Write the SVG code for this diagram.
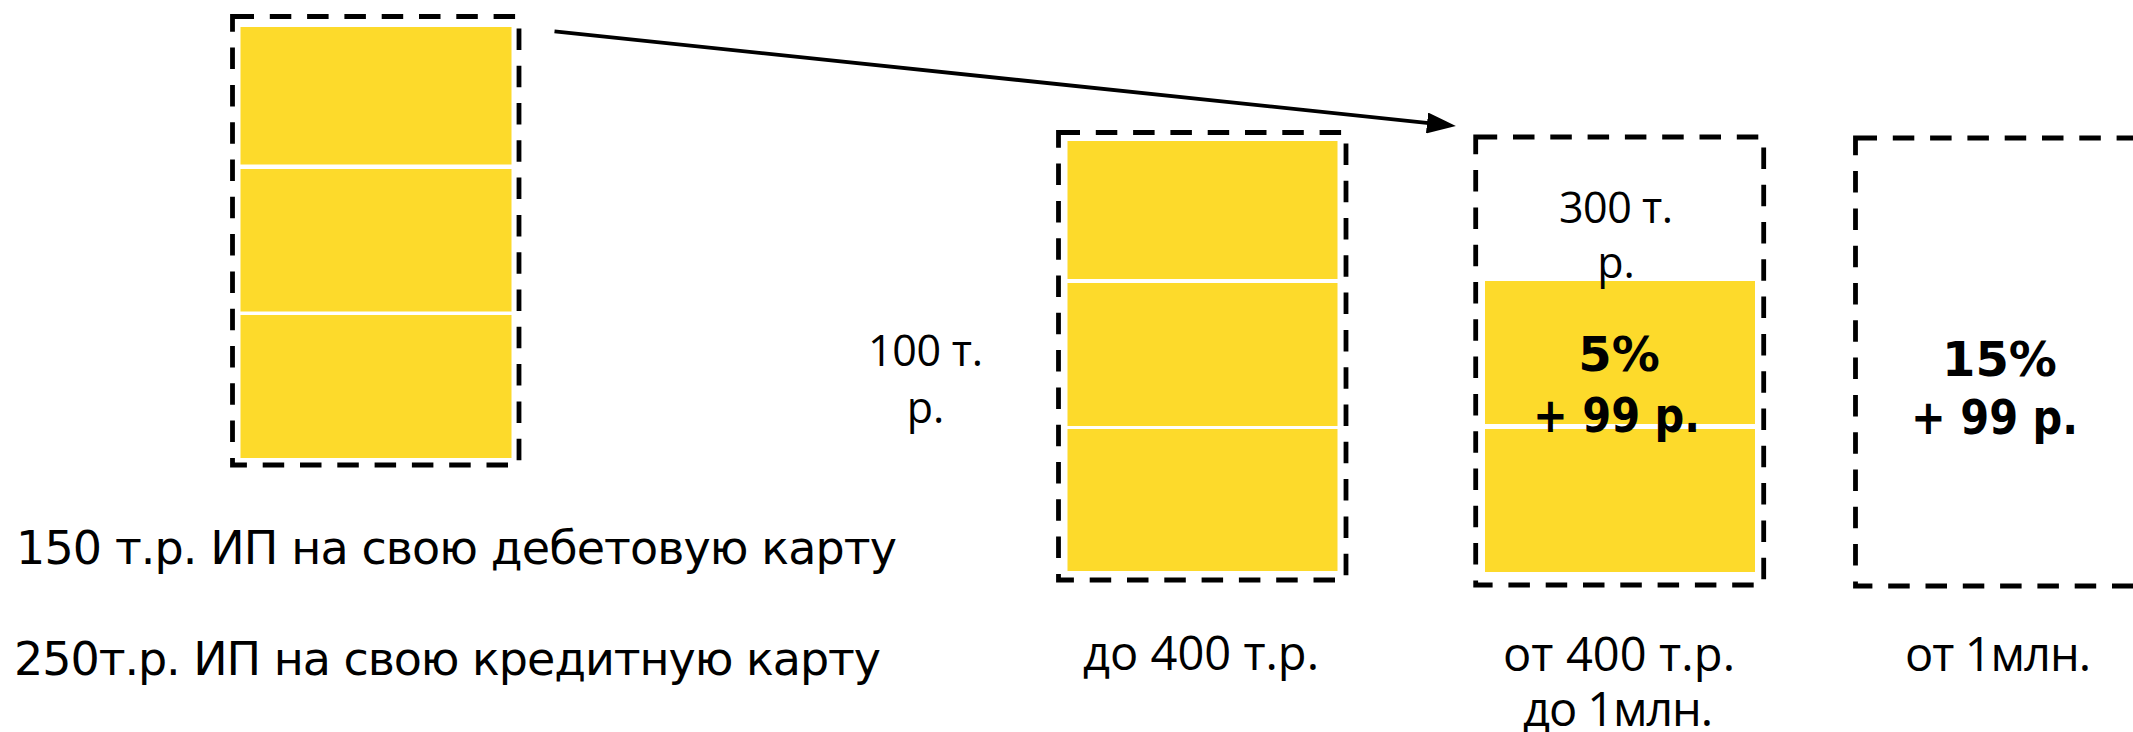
<svg xmlns="http://www.w3.org/2000/svg" width="2133" height="732" viewBox="0 0 2133 732">
<defs>
<style>
.frame{fill:none;stroke:#000;stroke-width:4.8;stroke-dasharray:21.5 15.8;}
.cell{fill:#FDDA2B;}
.lbl{font-family:"Open Sans","DejaVu Sans",sans-serif;font-size:43px;fill:#000;text-anchor:middle;}
.cap{font-family:"Open Sans","DejaVu Sans",sans-serif;font-size:47px;fill:#000;text-anchor:middle;}
.big{font-family:"DejaVu Sans","Liberation Sans",sans-serif;font-weight:bold;font-size:48px;fill:#000;text-anchor:middle;}
.side{font-family:"DejaVu Sans","Liberation Sans",sans-serif;font-size:46px;fill:#000;}
.conn{fill:none;stroke:#000;stroke-width:3.8;}
</style>
<marker id="arrow" viewBox="0 0 29 21" refX="9" refY="10.5" markerWidth="29" markerHeight="21" markerUnits="userSpaceOnUse" orient="auto">
<path d="M0,0 L29,10.5 L0,21 z" fill="#000"/>
</marker>
</defs>
<rect width="2133" height="732" fill="#fff"/>

<g id="box1">
<rect class="cell" x="240.5" y="27" width="271" height="137.5"/>
<rect class="cell" x="240.5" y="169" width="271" height="142.5"/>
<rect class="cell" x="240.5" y="315" width="271" height="143"/>
<rect class="frame" x="232.5" y="16.5" width="286.5" height="448.5"/>
</g>

<g id="box2">
<rect class="cell" x="1067.5" y="141" width="270" height="138"/>
<rect class="cell" x="1067.5" y="283" width="270" height="143"/>
<rect class="cell" x="1067.5" y="429" width="270" height="142"/>
<rect class="frame" x="1058.5" y="132.5" width="287.5" height="447.5"/>
</g>

<g id="box3">
<rect class="cell" x="1485" y="281" width="270" height="143"/>
<rect class="cell" x="1485" y="429" width="270" height="143"/>
<rect class="frame" x="1475.7" y="137" width="288" height="448"/>
<text class="lbl" x="1616" y="223" textLength="114">300 т.</text>
<text class="lbl" x="1616" y="278">р.</text>
<text class="big" x="1619" y="371">5%</text>
<text class="big" x="1616.5" y="432" textLength="167" lengthAdjust="spacingAndGlyphs">+ 99 р.</text>
</g>

<g id="box4">
<rect class="frame" x="1855.5" y="138" width="288" height="448"/>
<text class="big" x="1999.5" y="376">15%</text>
<text class="big" x="1994.5" y="433.5" textLength="167" lengthAdjust="spacingAndGlyphs">+ 99 р.</text>
</g>

<g id="label-100">
<text class="lbl" x="925.5" y="366" textLength="115">100 т.</text>
<text class="lbl" x="925.5" y="423">р.</text>
</g>

<g id="side-labels">
<text class="side" x="16" y="564" textLength="881">150 т.р. ИП на свою дебетовую карту</text>
<text class="side" x="14" y="675" textLength="867">250т.р. ИП на свою кредитную карту</text>
</g>

<g id="bottom-labels">
<text class="cap" x="1201" y="670" textLength="236">до 400 т.р.</text>
<text class="cap" x="1619" y="671" textLength="232">от 400 т.р.</text>
<text class="cap" x="1618" y="726" textLength="190">до 1млн.</text>
<text class="cap" x="1998" y="671" textLength="186">от 1млн.</text>
</g>

<g id="connectors">
<line class="conn" x1="554.5" y1="31.3" x2="1436" y2="123.9" marker-end="url(#arrow)"/>
</g>
</svg>
